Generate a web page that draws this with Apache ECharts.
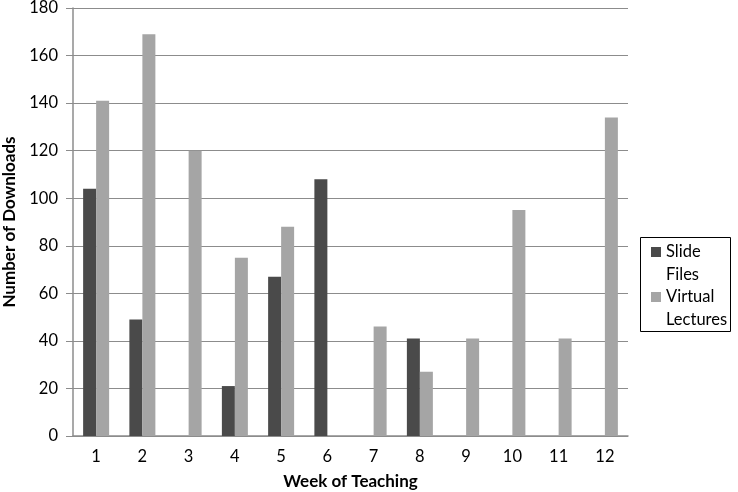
<!DOCTYPE html>
<html><head><meta charset="utf-8">
<script src="https://cdn.jsdelivr.net/npm/echarts@6/dist/echarts.min.js"></script>
<style>html,body{margin:0;padding:0;background:#fff}#c{width:738px;height:492px}</style>
</head><body><div id="c"></div>
<script>
const weeks = ['1','2','3','4','5','6','7','8','9','10','11','12'];
const slideFiles = [104, 49, 0, 21, 67, 108, 0, 41, 0, 0, 0, 0];
const virtualLectures = [141, 169, 120, 75, 88, 0, 46, 27, 41, 95, 41, 134];
const yTicks = [0, 20, 40, 60, 80, 100, 120, 140, 160, 180];

const font = 'Lato, "Open Sans", sans-serif';
const chart = echarts.init(document.getElementById('c'));
chart.setOption({
  animation: false,
  backgroundColor: '#fff',
  grid: {left: 73, right: 110, top: 8, bottom: 56, containLabel: false, outerBoundsMode: 'none'},
  xAxis: {
    type: 'category', data: weeks,
    axisLine: {lineStyle: {color: '#8c8c8c', width: 1.5}},
    axisTick: {show: false},
    axisLabel: {color: '#000', fontSize: 16.5, fontFamily: font, margin: 12},
    name: 'Week of Teaching', nameLocation: 'middle', nameGap: 37,
    nameTextStyle: {color: '#000', fontSize: 17, fontWeight: 'bold', fontFamily: font}
  },
  yAxis: {
    type: 'value', min: yTicks[0], max: yTicks[yTicks.length-1], interval: 20,
    axisLine: {show: true, lineStyle: {color: '#8c8c8c', width: 1.5}},
    axisTick: {show: true, length: 7, lineStyle: {color: '#8c8c8c'}},
    splitLine: {lineStyle: {color: '#8c8c8c', width: 1.2}},
    axisLabel: {color: '#000', fontSize: 16.5, fontFamily: font, margin: 15},
    name: 'Number of Downloads', nameLocation: 'middle', nameGap: 54,
    nameTextStyle: {color: '#000', fontSize: 17, fontWeight: 'bold', fontFamily: font}
  },
  series: [
    {name: 'Slide Files', type: 'bar', data: slideFiles, barWidth: 13, barGap: '0%',
     itemStyle: {color: '#4a4a4a'}},
    {name: 'Virtual Lectures', type: 'bar', data: virtualLectures, barWidth: 13, barGap: '0%',
     itemStyle: {color: '#a5a5a5'}}
  ],
  graphic: [
    {type: 'rect', shape: {x: 640.5, y: 237.5, width: 90, height: 94},
     style: {fill: '#fff', stroke: '#000', lineWidth: 1}},
    {type: 'rect', shape: {x: 651, y: 247, width: 10, height: 10}, style: {fill: '#4a4a4a'}},
    {type: 'rect', shape: {x: 651, y: 292, width: 10, height: 10}, style: {fill: '#a5a5a5'}},
    {type: 'text', x: 666, y: 252, style: {text: 'Slide', fontSize: 16.5, fontFamily: font, fill: '#000', verticalAlign: 'middle'}},
    {type: 'text', x: 666, y: 274.5, style: {text: 'Files', fontSize: 16.5, fontFamily: font, fill: '#000', verticalAlign: 'middle'}},
    {type: 'text', x: 666, y: 297, style: {text: 'Virtual', fontSize: 16.5, fontFamily: font, fill: '#000', verticalAlign: 'middle'}},
    {type: 'text', x: 666, y: 319.5, style: {text: 'Lectures', fontSize: 16.5, fontFamily: font, fill: '#000', verticalAlign: 'middle'}}
  ]
});
</script></body></html>
